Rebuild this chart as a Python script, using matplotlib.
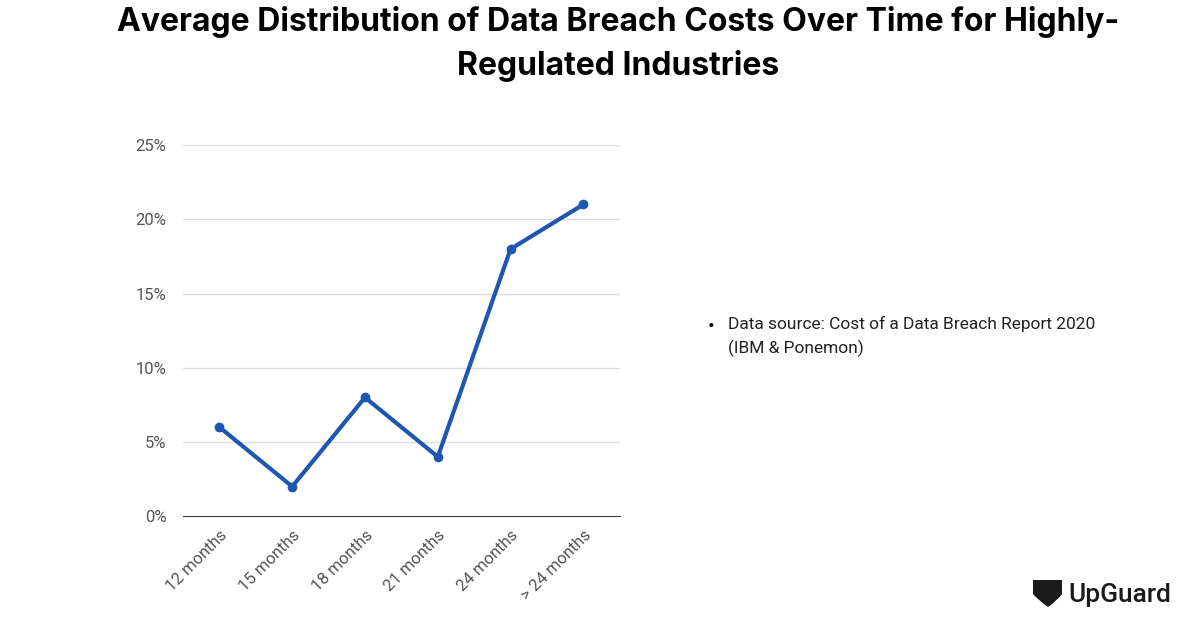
import matplotlib
matplotlib.use("Agg")
import matplotlib.pyplot as plt
from matplotlib.patches import PathPatch
from matplotlib.path import Path

categories = ["12 months", "15 months", "18 months", "21 months", "24 months", "> 24 months"]
values = [6, 2, 8, 4, 18, 21]
yticks = [0, 5, 10, 15, 20, 25]
ytick_labels = ["0%", "5%", "10%", "15%", "20%", "25%"]

plt.rcParams["font.family"] = "Roboto"
fig = plt.figure(figsize=(12, 6.28), dpi=100)
fig.patch.set_facecolor("white")
fig.text(0.515, 0.93, "Average Distribution of Data Breach Costs Over Time for Highly-\nRegulated Industries",
         ha="center", va="center", fontsize=23, fontweight="bold", family="Inter", linespacing=1.45)

ax = fig.add_axes([0.1525, 0.178, 0.364, 0.591])
x = range(len(categories))
ax.plot(x, values, color="#1f56b0", lw=3, marker="o", ms=6)
ax.set_xlim(-0.5, len(categories) - 0.5)
ax.set_ylim(0, 25)
ax.set_yticks(yticks)
ax.set_yticklabels(ytick_labels)
ax.set_xticks(list(x))
ax.set_xticklabels(categories, rotation=45, ha="right", rotation_mode="anchor")
ax.grid(axis="y", color="#dddddd", lw=1)
ax.set_axisbelow(True)
for s in ["top", "right", "left"]:
    ax.spines[s].set_visible(False)
ax.spines["bottom"].set_color("#444444")
ax.tick_params(axis="both", length=0, labelsize=12, colors="#555555")
ax.tick_params(axis="x", pad=8)
ax.tick_params(axis="y", pad=12)

fig.text(0.59, 0.48, "•", fontsize=14, va="center", ha="left")
fig.text(0.607, 0.497, "Data source: Cost of a Data Breach Report 2020\n(IBM & Ponemon)",
         fontsize=12.5, va="top", ha="left", linespacing=1.6, color="#222222")

# UpGuard logo
verts = [(1033, 580), (1062, 580), (1062, 594), (1058, 600), (1048, 607), (1038, 600), (1033, 594), (1033, 580)]
verts = [(vx / 1200, 1 - vy / 628) for vx, vy in verts]
codes = [Path.MOVETO, Path.LINETO, Path.LINETO, Path.CURVE3, Path.CURVE3, Path.CURVE3, Path.CURVE3, Path.CLOSEPOLY]
fig.patches.append(PathPatch(Path(verts, codes), transform=fig.transFigure, fc="#1a1a1a", ec="none"))
fig.text(1068 / 1200, 1 - 595 / 628, "UpGuard", fontsize=19, fontweight="medium", va="center", ha="left", color="#1a1a1a")

fig.savefig("out.png", dpi=100, facecolor="white")
